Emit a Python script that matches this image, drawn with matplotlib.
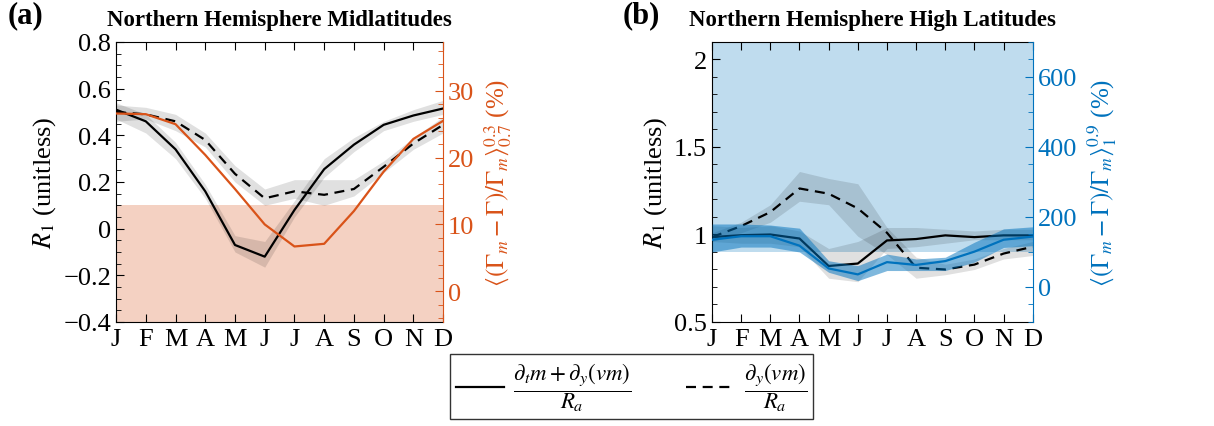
import numpy as np
import matplotlib
matplotlib.use("Agg")
import matplotlib.pyplot as plt
from matplotlib.ticker import MultipleLocator

plt.rcParams["font.family"] = ["Liberation Serif", "DejaVu Serif"]
plt.rcParams["mathtext.fontset"] = "stix"

months = ["J", "F", "M", "A", "M", "J", "J", "A", "S", "O", "N", "D"]

# panel (a): NH midlatitudes
a_full = [0.51, 0.46, 0.34, 0.16, -0.07, -0.12, 0.08, 0.255, 0.36, 0.445, 0.485, 0.515]
a_full_lo = [0.47, 0.41, 0.30, 0.13, -0.10, -0.165, 0.05, 0.22, 0.33, 0.42, 0.46, 0.49]
a_full_hi = [0.54, 0.49, 0.37, 0.19, -0.03, -0.055, 0.12, 0.30, 0.39, 0.46, 0.51, 0.55]
a_div = [0.50, 0.49, 0.46, 0.38, 0.235, 0.13, 0.16, 0.145, 0.17, 0.265, 0.365, 0.445]
a_div_lo = [0.46, 0.47, 0.42, 0.35, 0.20, 0.10, 0.13, 0.10, 0.14, 0.24, 0.34, 0.41]
a_div_hi = [0.53, 0.52, 0.49, 0.41, 0.27, 0.17, 0.21, 0.21, 0.21, 0.29, 0.39, 0.48]
a_pct = [26.6, 26.5, 25.0, 20.4, 15.3, 10.0, 6.7, 7.1, 12.0, 17.9, 22.8, 25.5]
a_yticks = [-0.4, -0.2, 0, 0.2, 0.4, 0.6, 0.8]
a_ylabels = ["\u22120.4", "\u22120.2", "0", "0.2", "0.4", "0.6", "0.8"]

# panel (b): NH high latitudes
b_full = [0.985, 0.996, 1.0, 0.977, 0.82, 0.834, 0.966, 0.974, 0.995, 0.985, 0.995, 0.995]
b_full_lo = [0.96, 0.95, 0.95, 0.93, 0.75, 0.73, 0.92, 0.93, 0.95, 0.97, 0.97, 0.97]
b_full_hi = [1.05, 1.04, 1.05, 1.02, 0.92, 0.96, 1.04, 1.04, 1.03, 1.02, 1.03, 1.03]
b_div = [0.985, 1.048, 1.128, 1.263, 1.233, 1.149, 1.01, 0.81, 0.80, 0.828, 0.891, 0.93]
b_div_lo = [0.96, 1.01, 1.07, 1.19, 1.17, 0.99, 0.885, 0.75, 0.77, 0.80, 0.86, 0.88]
b_div_hi = [1.01, 1.07, 1.17, 1.36, 1.32, 1.29, 1.04, 0.87, 0.83, 0.86, 0.92, 0.96]
b_pct = [135, 145, 145, 118, 53, 36, 71, 63, 74, 101, 135, 144]
b_pct_lo = [100, 114, 114, 100, 42, 18, 47, 47, 47, 71, 113, 118]
b_pct_hi = [180, 180, 177, 168, 75, 61, 94, 80, 85, 128, 166, 172]
b_yticks = [0.5, 1, 1.5, 2]
b_ylabels = ["0.5", "1", "1.5", "2"]

orange = "#d95319"
blue = "#0072bd"
x = np.arange(len(months))

fig = plt.figure(figsize=(12.14, 4.27), dpi=100)
ax1 = fig.add_axes([0.0956, 0.2436, 0.2694, 0.6557])
ax2 = fig.add_axes([0.5865, 0.2436, 0.2642, 0.6557])


def style(ax, ylim, ticks, labels, minor):
    ax.set_xlim(0, 11)
    ax.set_ylim(*ylim)
    ax.set_xticks(x)
    ax.set_xticklabels(months)
    ax.set_yticks(ticks)
    ax.set_yticklabels(labels)
    ax.yaxis.set_minor_locator(MultipleLocator(minor))
    ax.tick_params(axis="both", which="both", direction="in", labelsize=19,
                   top=True, right=False)
    ax.tick_params(which="major", length=6)
    ax.tick_params(which="minor", length=3.5)
    ax.tick_params(axis="x", pad=4)
    ax.spines["right"].set_visible(False)
    ax.set_ylabel(r"$R_1$ (unitless)", fontsize=19, labelpad=4)


def twin_style(tw, ylim, ticks, minor, color, label):
    tw.set_ylim(*ylim)
    tw.set_yticks(ticks)
    tw.yaxis.set_minor_locator(MultipleLocator(minor))
    tw.tick_params(axis="y", which="both", direction="in", colors=color, labelsize=19)
    tw.tick_params(which="major", length=6)
    tw.tick_params(which="minor", length=3.5)
    tw.spines["right"].set_color(color)
    for s in ["left", "top", "bottom"]:
        tw.spines[s].set_visible(False)
    tw.set_ylabel(label, color=color, fontsize=18, labelpad=6)


# (a)
ax1.axhspan(-0.4, 0.1, color="#f4d1c2", lw=0, zorder=0)
ax1.fill_between(x, a_full_lo, a_full_hi, color="black", alpha=0.12, lw=0)
ax1.fill_between(x, a_div_lo, a_div_hi, color="black", alpha=0.12, lw=0)
ax1.plot(x, a_full, color="black", lw=1.6, label=r"$\dfrac{\partial_t m+\partial_y(vm)}{R_a}$")
ax1.plot(x, a_div, color="black", lw=1.6, ls=(0, (4.5, 3)), label=r"$\dfrac{\partial_y(vm)}{R_a}$")
style(ax1, (-0.4, 0.8), a_yticks, a_ylabels, 0.05)
ax1.set_title("Northern Hemisphere Midlatitudes", fontsize=16.5, fontweight="bold", pad=12)

t1 = ax1.twinx()
t1.plot(x, a_pct, color=orange, lw=1.6)
twin_style(t1, (-4.6, 37.3), [0, 10, 20, 30], 2, orange,
           r"$\langle(\Gamma_m-\Gamma)/\Gamma_m\rangle_{0.7}^{0.3}$ (%)")

# (b)
ax2.axhspan(0.9, 2.1, color="#bfdcee", lw=0, zorder=0)
ax2.fill_between(x, b_full_lo, b_full_hi, color="black", alpha=0.12, lw=0)
ax2.fill_between(x, b_div_lo, b_div_hi, color="black", alpha=0.12, lw=0)
ax2.plot(x, b_full, color="black", lw=1.6)
ax2.plot(x, b_div, color="black", lw=1.6, ls=(0, (4.5, 3)))
style(ax2, (0.5, 2.1), b_yticks, b_ylabels, 0.1)
ax2.set_title("Northern Hemisphere High Latitudes", fontsize=16.5, fontweight="bold", pad=12)

t2 = ax2.twinx()
t2.fill_between(x, b_pct_lo, b_pct_hi, color=blue, alpha=0.5, lw=0)
t2.plot(x, b_pct, color=blue, lw=1.6)
twin_style(t2, (-100, 700), [0, 200, 400, 600], 50, blue,
           r"$\langle(\Gamma_m-\Gamma)/\Gamma_m\rangle_{1}^{0.9}$ (%)")

fig.text(0.006, 0.945, "(a)", fontsize=22, fontweight="bold")
fig.text(0.513, 0.945, "(b)", fontsize=22, fontweight="bold")

h, l = ax1.get_legend_handles_labels()
leg = fig.legend(h, l, loc="center", bbox_to_anchor=(0.520, 0.0925), ncol=2,
                 fontsize=16.5, frameon=True, fancybox=False, edgecolor="black",
                 handlelength=2.1, handletextpad=0.4, columnspacing=2.4,
                 borderpad=0.25, borderaxespad=0)
leg.get_frame().set_linewidth(1.0)

fig.savefig("out.png", dpi=100)
